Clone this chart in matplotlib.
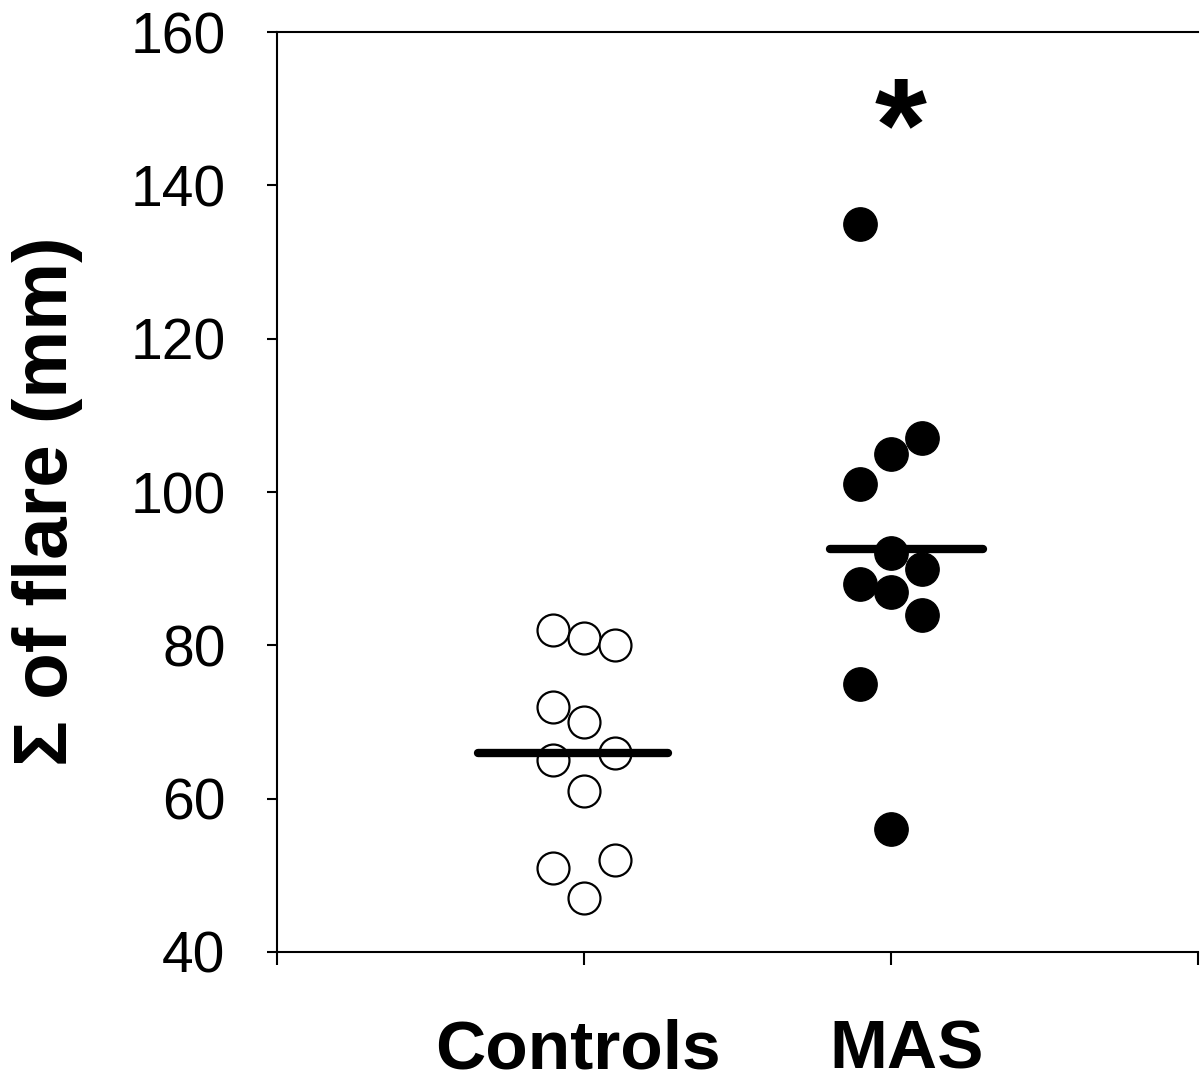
import matplotlib.pyplot as plt
import numpy as np

# data
controls_x = [0.9, 1.0, 1.1, 0.9, 1.0, 0.9, 1.1, 1.0, 0.9, 1.1, 1.0]
controls_y = [82, 81, 80, 72, 70, 65, 66, 61, 51, 52, 47]
mas_x = [1.9, 2.1, 2.0, 1.9, 2.0, 2.1, 1.9, 2.0, 2.1, 1.9, 2.0]
mas_y = [135, 107, 105, 101, 92, 90, 88, 87, 84, 75, 56]
controls_mean = 66
mas_mean = 92.6
mean_span_controls = [0.655, 1.275]
mean_span_mas = [1.8, 2.3]
group_labels = ["Controls", "MAS"]
label_pos = [0.98, 2.05]
yticks = [40, 60, 80, 100, 120, 140, 160]

plt.rcParams['font.family'] = ['Liberation Sans', 'DejaVu Sans']

fig = plt.figure(figsize=(12, 10.86), dpi=100)
ax = fig.add_axes([0.2308, 0.1234, 0.7675, 0.8471])

ax.plot(controls_x, controls_y, 'o', ms=23, mfc='white', mec='black', mew=1.6, zorder=3)
ax.plot(mas_x, mas_y, 'o', ms=24, mfc='black', mec='black', zorder=3)

# group means
ax.plot(mean_span_controls, [controls_mean] * 2, color='black', lw=6, solid_capstyle='round', zorder=4)
ax.plot(mean_span_mas, [mas_mean] * 2, color='black', lw=6, solid_capstyle='round', zorder=4)

ax.text(2.03, 146.5, "*", fontsize=96, fontweight='bold', ha='center', va='center')

ax.set_xlim(0, 3)
ax.set_ylim(40, 160)
ax.set_yticks(yticks)
ax.set_xticks([0, 1, 2, 3])
ax.set_xticklabels([])
ax.tick_params(axis='y', labelsize=41, length=7, width=1.5, pad=30, direction='out')
ax.tick_params(axis='x', length=9, width=1.5, direction='out')

for lab, xp in zip(group_labels, label_pos):
    ax.text(xp, 27.2, lab, fontsize=50, fontweight='bold', ha='center', va='center')

ax.spines['right'].set_visible(False)
for s in ['left', 'top', 'bottom']:
    ax.spines[s].set_linewidth(1.5)

fig.text(0.04, 0.538, "Σ of flare (mm)", fontsize=55, fontweight='bold', rotation=90,
         ha='center', va='center')

fig.savefig("out.png", dpi=100)
